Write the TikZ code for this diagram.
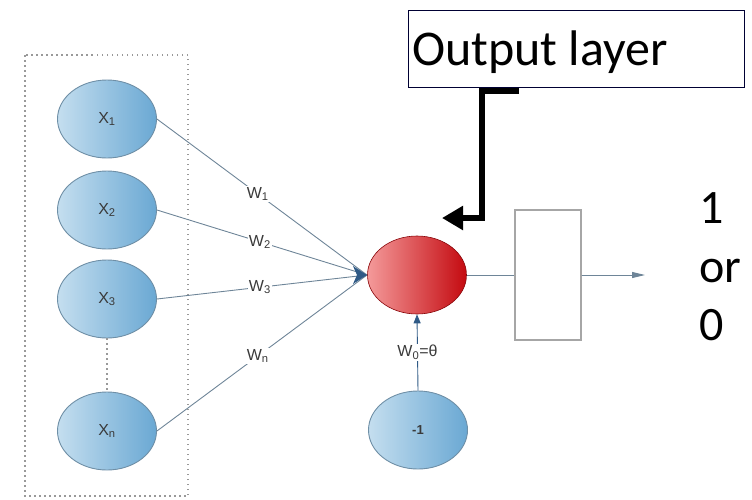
\documentclass[tikz,border=0pt]{standalone}
\usepackage{fontspec}
\setmainfont{Carlito}
\newfontfamily\labelfont{Liberation Sans}
\usetikzlibrary{shapes.geometric,arrows.meta}
\definecolor{edgegray}{HTML}{6E8598}
\definecolor{tipblue}{HTML}{2F5A86}
\definecolor{nodeline}{HTML}{6F8FA6}
\definecolor{blueL}{HTML}{C4DEEF}
\definecolor{blueR}{HTML}{6AA8D3}
\definecolor{redL}{HTML}{F49A9A}
\definecolor{redR}{HTML}{C40A10}
\definecolor{labgray}{HTML}{3A3A3A}
\tikzset{
  inputnode/.style={ellipse, draw=nodeline, line width=0.9pt, left color=blueL, right color=blueR,
    minimum width=99pt, minimum height=78pt, inner sep=0pt,
    font=\labelfont\fontsize{16}{17}\selectfont, text=labgray},
  sumnode/.style={ellipse, draw=redR!70!black, line width=0.6pt, left color=redL, right color=redR,
    minimum width=99pt, minimum height=78pt, inner sep=0pt},
  weight/.style={edgegray, line width=0.9pt},
  wlabel/.style={fill=white, inner sep=1pt, font=\labelfont\fontsize{16}{17}\selectfont, text=labgray},
  bigtext/.style={font=\fontsize{48}{52}\selectfont, inner sep=0pt},
  pointer/.style={line width=6pt, -{Triangle[length=21pt, width=23pt]}}
}
\begin{document}
\begin{tikzpicture}[x=1pt, y=-1pt]
  \useasboundingbox (0,0) rectangle (752,499);

  % input group frame
  \draw[gray!80, line width=1.1pt, dash pattern=on 1.5pt off 3.5pt] (25,55) rectangle (188,496);

  % inputs
  \node[inputnode] (x1) at (107,119) {X\textsubscript{1}};
  \node[inputnode] (x2) at (107,210) {X\textsubscript{2}};
  \node[inputnode] (x3) at (107,299) {X\textsubscript{3}};
  \node[inputnode] (xn) at (107,431) {X\textsubscript{n}};
  \draw[gray!80, line width=1.1pt, dash pattern=on 1.5pt off 3.5pt] (x3.south) -- (xn.north);

  % summing neuron and bias
  \node[sumnode] (sum) at (417,275) {};
  \node[inputnode, font=\labelfont\bfseries\fontsize{13}{14}\selectfont] (bias) at (418,430) {-1};
  \coordinate (tip) at (367,275);

  % weighted connections
  \draw[weight] (x1.east) -- node[wlabel, pos=0.48] {W\textsubscript{1}} (tip);
  \draw[weight] (x2.east) -- node[wlabel, pos=0.49] {W\textsubscript{2}} (tip);
  \draw[weight] (x3.east) -- node[wlabel, pos=0.49] {W\textsubscript{3}} (tip);
  \draw[weight] (xn.east) -- node[wlabel, pos=0.48] {W\textsubscript{n}} (tip);
  \fill[tipblue] (tip) -- ++(-14,-9) -- ++(4,9) -- ++(-4,9) -- cycle;

  \draw[weight, -{Triangle[length=9pt, width=7pt]}, tipblue] (bias.north) -- node[wlabel, pos=0.5] {W\textsubscript{0}=θ} (sum.south);

  % threshold block and output
  \node[draw=gray!70, line width=1.2pt, minimum width=66pt, minimum height=130pt, inner sep=0pt] (step1) at (548,275) {};
  \draw[weight] (sum.east) -- (step1.west);
  \coordinate (outend) at (645,275);
  \draw[weight, -{Triangle[length=13pt, width=6pt]}, draw=edgegray, fill=tipblue] (step1.east) -- (outend);

  \node[bigtext, anchor=base west] (one) at (699,223) {1};
  \node[bigtext, anchor=base west] (orw) at (699,282) {or};
  \node[bigtext, anchor=base west] (zero) at (699,340) {0};

  % caption box with bent pointer
  \node[draw=black!80!blue, line width=1pt, minimum width=336pt, minimum height=77pt, inner sep=0pt] (cap) at (576,48.5) {};
  \node[font=\fontsize{50}{54}\selectfont, anchor=base west, inner sep=0pt] (captext) at (412,65) {Output layer};
  \coordinate (c0) at (519,91);
  \coordinate (c1) at (482,91);
  \coordinate (c2) at (482,218);
  \coordinate (c3) at (442,218);
  \draw[pointer] (c0) -- (c1) -- (c2) -- (c3);
\end{tikzpicture}
\end{document}
